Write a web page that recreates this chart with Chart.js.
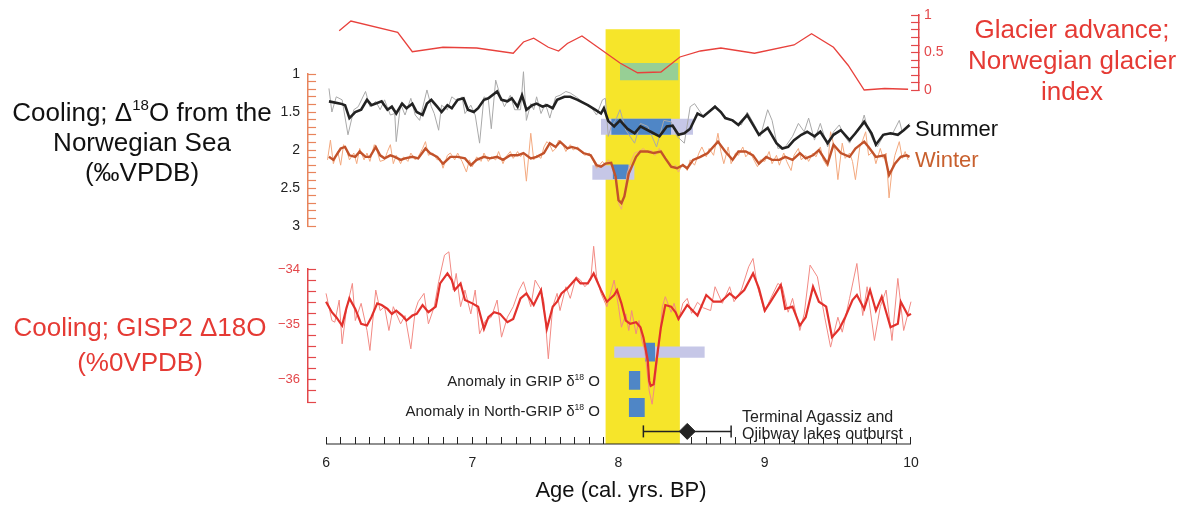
<!DOCTYPE html>
<html>
<head>
<meta charset="utf-8">
<title>8.2 ka event records</title>
<script src="https://cdn.jsdelivr.net/npm/chart.js@4.4.1/dist/chart.umd.min.js"></script>
<style>
  body { margin: 0; background: #fff; }
  #wrap { position: relative; width: 1182px; height: 506px; font-family: "Liberation Sans", Arial, sans-serif; }
  #chart { position: absolute; left: 0; top: 0; }
  .t { position: absolute; white-space: nowrap; }
  .c { transform: translateX(-50%); text-align: center; }
  sup { font-size: 58%; vertical-align: 0.7em; line-height: 0; }
</style>
</head>
<body>
<div id="wrap">
  <canvas id="chart" width="1182" height="506"></canvas>

  <div class="t c" style="left:142px;top:97px;font-size:26px;line-height:30px;color:#111">Cooling; Δ<sup>18</sup>O from the<br>Norwegian Sea<br>(‰VPDB)</div>
  <div class="t c" style="left:140px;top:310px;font-size:26px;line-height:35px;color:#e53a34">Cooling; GISP2 Δ18O<br>(%0VPDB)</div>
  <div class="t c" style="left:1072px;top:14px;font-size:26px;line-height:31px;color:#e53a34">Glacier advance;<br>Norwegian glacier<br>index</div>
  <div class="t" style="left:915px;top:118px;font-size:22px;line-height:22px;color:#111">Summer</div>
  <div class="t" style="left:915px;top:149px;font-size:22px;line-height:22px;color:#c8602e">Winter</div>
  <div class="t" style="right:582px;top:373px;font-size:15px;line-height:15px;color:#222">Anomaly in GRIP δ<sup>18</sup> O</div>
  <div class="t" style="right:582px;top:403px;font-size:15px;line-height:15px;color:#222">Anomaly in North-GRIP δ<sup>18</sup> O</div>
  <div class="t" style="left:742px;top:408px;font-size:16px;line-height:17px;color:#222">Terminal Agassiz and<br>Ojibway lakes outburst</div>
  <div class="t c" style="left:621px;top:479px;font-size:22px;line-height:22px;color:#111">Age (cal. yrs. BP)</div>
</div>

<script>
// ---------- glacier index ----------
const glacierAge = [6.09, 6.17, 6.49, 6.59, 6.80, 7.03, 7.28, 7.35, 7.42, 7.52, 7.59, 7.65, 7.75, 8.01, 8.13, 8.29, 8.42, 8.56, 8.70, 8.93, 9.20, 9.32, 9.47, 9.57, 9.68, 9.82, 9.98];
const glacierIdx = [0.79, 0.92, 0.77, 0.51, 0.57, 0.56, 0.49, 0.64, 0.69, 0.57, 0.52, 0.62, 0.72, 0.36, 0.23, 0.24, 0.44, 0.52, 0.56, 0.49, 0.60, 0.75, 0.57, 0.33, 0.00, 0.02, 0.01];

// ---------- Norwegian Sea, summer ----------
const summerAge = [6.02, 6.10, 6.13, 6.16, 6.20, 6.24, 6.28, 6.31, 6.38, 6.42, 6.45, 6.48, 6.52, 6.55, 6.59, 6.62, 6.66, 6.69, 6.72, 6.76, 6.79, 6.83, 6.86, 6.90, 6.94, 6.97, 7.01, 7.04, 7.08, 7.11, 7.17, 7.20, 7.24, 7.27, 7.31, 7.34, 7.37, 7.41, 7.44, 7.48, 7.51, 7.55, 7.58, 7.63, 7.67, 7.72, 7.79, 7.84, 7.88, 7.90, 7.93, 7.97, 8.01, 8.06, 8.11, 8.15, 8.22, 8.28, 8.33, 8.37, 8.41, 8.45, 8.49, 8.54, 8.58, 8.66, 8.70, 8.73, 8.78, 8.82, 8.88, 8.92, 8.96, 9.02, 9.08, 9.12, 9.16, 9.20, 9.25, 9.29, 9.34, 9.38, 9.43, 9.47, 9.52, 9.58, 9.62, 9.68, 9.73, 9.76, 9.81, 9.86, 9.91, 9.95, 9.99];
const summerSmooth = [1.36, 1.39, 1.41, 1.58, 1.50, 1.47, 1.34, 1.41, 1.36, 1.47, 1.43, 1.52, 1.39, 1.45, 1.39, 1.50, 1.54, 1.39, 1.34, 1.43, 1.50, 1.41, 1.45, 1.34, 1.32, 1.47, 1.50, 1.45, 1.34, 1.32, 1.23, 1.34, 1.36, 1.32, 1.43, 1.28, 1.47, 1.41, 1.39, 1.43, 1.41, 1.45, 1.34, 1.30, 1.30, 1.34, 1.41, 1.47, 1.52, 1.45, 1.62, 1.69, 1.61, 1.72, 1.78, 1.69, 1.76, 1.82, 1.69, 1.68, 1.80, 1.78, 1.72, 1.52, 1.56, 1.43, 1.50, 1.58, 1.61, 1.67, 1.54, 1.67, 1.80, 1.71, 1.91, 1.98, 1.96, 1.87, 1.80, 1.76, 1.82, 1.76, 1.91, 1.80, 1.74, 1.87, 1.78, 1.63, 1.78, 1.93, 1.80, 1.78, 1.80, 1.74, 1.67];
const summerRawAge = [6.02, 6.04, 6.07, 6.11, 6.15, 6.19, 6.22, 6.27, 6.30, 6.34, 6.37, 6.40, 6.44, 6.47, 6.48, 6.51, 6.54, 6.58, 6.61, 6.64, 6.69, 6.72, 6.74, 6.77, 6.79, 6.83, 6.86, 6.90, 6.93, 6.95, 6.99, 7.02, 7.05, 7.08, 7.11, 7.13, 7.16, 7.19, 7.22, 7.26, 7.29, 7.33, 7.35, 7.37, 7.40, 7.42, 7.44, 7.47, 7.50, 7.53, 7.57, 7.60, 7.64, 7.67, 7.71, 7.75, 7.81, 7.85, 7.89, 7.91, 7.93, 7.95, 7.98, 8.01, 8.05, 8.11, 8.15, 8.20, 8.26, 8.31, 8.36, 8.40, 8.45, 8.49, 8.52, 8.58, 8.66, 8.70, 8.74, 8.79, 8.84, 8.88, 8.93, 8.97, 9.02, 9.05, 9.09, 9.14, 9.19, 9.23, 9.27, 9.30, 9.34, 9.38, 9.43, 9.47, 9.51, 9.54, 9.58, 9.62, 9.66, 9.68, 9.70, 9.74, 9.77, 9.82, 9.87, 9.92, 9.94, 9.99];
const summerRaw = [1.19, 1.50, 1.30, 1.34, 1.80, 1.47, 1.43, 1.23, 1.43, 1.36, 1.47, 1.34, 1.54, 1.52, 1.89, 1.39, 1.54, 1.32, 1.54, 1.61, 1.21, 1.43, 1.52, 1.74, 1.41, 1.47, 1.30, 1.36, 1.30, 1.52, 1.41, 1.54, 1.91, 1.30, 1.34, 1.72, 1.08, 1.28, 1.43, 1.28, 1.47, 1.47, 0.97, 1.61, 1.39, 1.47, 1.30, 1.52, 1.39, 1.58, 1.30, 1.28, 1.23, 1.25, 1.30, 1.36, 1.43, 1.54, 1.34, 1.32, 1.82, 1.69, 1.61, 1.47, 1.74, 1.91, 1.65, 1.69, 1.96, 1.61, 1.63, 1.82, 1.91, 1.43, 1.39, 1.56, 1.41, 1.52, 1.58, 1.63, 1.67, 1.50, 1.67, 1.82, 1.47, 1.61, 1.98, 1.96, 1.82, 1.65, 1.76, 1.58, 1.87, 1.65, 1.96, 1.76, 1.67, 1.80, 1.91, 1.76, 1.67, 1.54, 1.69, 1.87, 1.96, 1.78, 1.80, 1.61, 1.76, 1.65];

// ---------- Norwegian Sea, winter ----------
const winterAge = [6.02, 6.05, 6.10, 6.13, 6.16, 6.20, 6.23, 6.27, 6.30, 6.34, 6.37, 6.40, 6.44, 6.47, 6.51, 6.54, 6.59, 6.63, 6.68, 6.71, 6.76, 6.80, 6.85, 6.90, 6.95, 6.99, 7.03, 7.08, 7.12, 7.17, 7.21, 7.26, 7.31, 7.35, 7.40, 7.44, 7.49, 7.53, 7.57, 7.60, 7.65, 7.68, 7.72, 7.76, 7.81, 7.85, 7.88, 7.91, 7.95, 7.98, 8.00, 8.02, 8.04, 8.07, 8.12, 8.15, 8.20, 8.24, 8.29, 8.32, 8.36, 8.40, 8.44, 8.47, 8.51, 8.56, 8.61, 8.68, 8.73, 8.78, 8.82, 8.87, 8.92, 8.96, 9.01, 9.05, 9.10, 9.14, 9.19, 9.24, 9.28, 9.33, 9.37, 9.43, 9.47, 9.52, 9.58, 9.62, 9.68, 9.71, 9.76, 9.82, 9.85, 9.89, 9.93, 9.97, 9.99];
const winterSmooth = [2.09, 2.13, 1.98, 1.96, 2.07, 2.09, 2.02, 2.09, 2.09, 1.96, 2.07, 2.11, 2.07, 2.09, 2.13, 2.11, 2.09, 2.11, 1.98, 2.04, 2.09, 2.18, 2.09, 2.09, 2.11, 2.20, 2.13, 2.09, 2.11, 2.09, 2.13, 2.07, 2.07, 2.04, 2.11, 2.09, 2.04, 1.91, 1.96, 1.89, 1.98, 1.96, 1.98, 2.04, 2.07, 2.20, 2.22, 2.18, 2.17, 2.35, 2.66, 2.70, 2.61, 2.31, 2.09, 2.02, 2.02, 2.04, 2.02, 2.11, 2.22, 2.24, 2.20, 2.24, 2.13, 2.09, 2.04, 1.89, 2.02, 2.13, 2.02, 2.02, 2.07, 2.18, 2.09, 2.13, 2.13, 2.09, 2.13, 2.04, 2.11, 2.07, 2.00, 2.18, 1.93, 2.04, 2.09, 1.98, 1.89, 1.96, 2.09, 2.07, 2.33, 2.18, 2.09, 2.07, 2.09];
const winterRawAge = [6.01, 6.03, 6.05, 6.08, 6.10, 6.12, 6.14, 6.16, 6.19, 6.21, 6.23, 6.26, 6.28, 6.30, 6.33, 6.35, 6.37, 6.40, 6.42, 6.44, 6.46, 6.48, 6.51, 6.53, 6.56, 6.58, 6.61, 6.63, 6.66, 6.68, 6.70, 6.73, 6.76, 6.78, 6.80, 6.83, 6.85, 6.88, 6.90, 6.93, 6.96, 6.98, 7.00, 7.03, 7.06, 7.08, 7.11, 7.13, 7.16, 7.18, 7.21, 7.23, 7.26, 7.28, 7.31, 7.33, 7.35, 7.37, 7.40, 7.42, 7.44, 7.47, 7.49, 7.51, 7.53, 7.55, 7.57, 7.59, 7.62, 7.64, 7.67, 7.69, 7.72, 7.74, 7.77, 7.80, 7.82, 7.85, 7.87, 7.89, 7.91, 7.93, 7.96, 7.98, 8.00, 8.02, 8.04, 8.06, 8.09, 8.11, 8.14, 8.17, 8.20, 8.22, 8.25, 8.28, 8.31, 8.33, 8.36, 8.39, 8.41, 8.44, 8.47, 8.49, 8.52, 8.55, 8.57, 8.60, 8.62, 8.65, 8.68, 8.70, 8.72, 8.75, 8.77, 8.80, 8.82, 8.85, 8.87, 8.90, 8.92, 8.95, 8.97, 9.00, 9.03, 9.05, 9.08, 9.10, 9.13, 9.15, 9.18, 9.20, 9.23, 9.25, 9.28, 9.30, 9.33, 9.35, 9.38, 9.40, 9.43, 9.45, 9.48, 9.50, 9.53, 9.55, 9.58, 9.60, 9.62, 9.65, 9.67, 9.69, 9.71, 9.74, 9.76, 9.79, 9.81, 9.83, 9.85, 9.87, 9.89, 9.92, 9.94, 9.96, 9.98];
const winterRaw = [2.13, 1.87, 2.18, 2.02, 2.20, 1.93, 2.00, 2.13, 2.04, 2.18, 1.98, 2.13, 2.04, 2.15, 1.93, 2.02, 2.15, 2.13, 2.02, 1.93, 2.18, 2.07, 2.18, 2.09, 2.15, 2.04, 2.13, 2.09, 1.98, 1.89, 2.07, 2.04, 2.13, 2.11, 2.24, 2.07, 2.04, 2.13, 2.04, 2.15, 2.29, 2.13, 2.22, 2.09, 2.15, 2.04, 2.15, 2.09, 2.13, 2.02, 2.18, 2.09, 2.02, 2.11, 2.02, 2.09, 2.04, 2.41, 1.78, 2.13, 2.07, 2.11, 1.96, 1.89, 1.93, 2.02, 1.98, 1.87, 1.93, 2.02, 1.93, 2.00, 1.96, 2.02, 2.07, 2.04, 2.11, 2.24, 2.20, 2.15, 2.20, 2.13, 2.22, 2.40, 2.70, 2.78, 2.58, 2.30, 2.13, 2.04, 2.02, 1.98, 2.04, 2.00, 2.07, 1.98, 2.09, 2.15, 2.24, 2.20, 2.29, 2.18, 2.27, 2.13, 2.20, 2.04, 1.96, 2.09, 1.98, 2.07, 1.78, 2.02, 2.18, 1.96, 2.18, 2.04, 2.07, 1.96, 2.09, 2.02, 2.11, 2.22, 2.13, 2.15, 2.02, 2.18, 2.07, 2.20, 2.04, 2.15, 2.27, 2.07, 1.98, 2.13, 2.07, 2.15, 2.04, 2.09, 1.96, 2.13, 2.22, 1.76, 2.00, 2.39, 1.91, 2.11, 2.04, 2.15, 2.39, 1.96, 1.87, 1.76, 2.07, 2.02, 2.18, 1.98, 2.11, 2.04, 2.63, 2.27, 2.07, 1.89, 2.11, 2.02, 2.13];

// ---------- GISP2 ----------
const gispAge = [6.00, 6.04, 6.07, 6.11, 6.14, 6.16, 6.20, 6.24, 6.28, 6.31, 6.35, 6.38, 6.42, 6.45, 6.48, 6.52, 6.55, 6.59, 6.62, 6.66, 6.70, 6.75, 6.78, 6.83, 6.86, 6.88, 6.92, 6.95, 7.00, 7.04, 7.08, 7.11, 7.15, 7.19, 7.24, 7.28, 7.33, 7.37, 7.42, 7.47, 7.51, 7.55, 7.58, 7.61, 7.65, 7.71, 7.74, 7.79, 7.83, 7.88, 7.92, 7.97, 7.99, 8.02, 8.05, 8.08, 8.12, 8.15, 8.17, 8.20, 8.21, 8.22, 8.24, 8.26, 8.29, 8.32, 8.36, 8.39, 8.41, 8.47, 8.54, 8.60, 8.65, 8.70, 8.76, 8.80, 8.86, 8.92, 8.96, 9.00, 9.04, 9.11, 9.14, 9.19, 9.24, 9.28, 9.33, 9.37, 9.42, 9.46, 9.51, 9.55, 9.60, 9.63, 9.68, 9.72, 9.76, 9.80, 9.86, 9.91, 9.93, 9.98, 10.00];
const gispSmooth = [-34.59, -34.78, -34.87, -35.02, -34.70, -34.53, -34.72, -34.99, -35.02, -34.87, -34.62, -34.65, -34.72, -34.81, -34.75, -34.84, -34.93, -34.84, -34.81, -34.65, -34.78, -34.68, -34.26, -34.08, -34.20, -34.38, -34.26, -34.56, -34.62, -34.68, -35.08, -34.87, -34.78, -34.81, -34.96, -34.90, -34.53, -34.44, -34.65, -34.38, -35.08, -34.68, -34.59, -34.44, -34.35, -34.17, -34.26, -34.26, -34.08, -34.38, -34.59, -34.47, -34.38, -34.62, -34.93, -34.99, -34.96, -35.05, -35.23, -35.65, -36.02, -36.11, -36.08, -35.65, -35.05, -34.65, -34.68, -34.78, -34.90, -34.65, -34.84, -34.47, -34.59, -34.59, -34.44, -34.53, -34.38, -34.08, -34.35, -34.75, -34.59, -34.29, -34.72, -34.68, -35.02, -34.87, -34.32, -34.59, -34.68, -35.23, -35.08, -34.87, -34.56, -34.47, -34.72, -34.38, -34.75, -34.50, -35.05, -34.99, -34.59, -34.84, -34.81];
const gispRawAge = [6.00, 6.04, 6.06, 6.09, 6.11, 6.14, 6.18, 6.20, 6.24, 6.28, 6.30, 6.34, 6.37, 6.40, 6.43, 6.46, 6.51, 6.54, 6.58, 6.61, 6.63, 6.67, 6.70, 6.74, 6.77, 6.81, 6.84, 6.87, 6.89, 6.92, 6.95, 6.99, 7.02, 7.05, 7.09, 7.13, 7.17, 7.20, 7.24, 7.28, 7.32, 7.35, 7.40, 7.43, 7.47, 7.49, 7.52, 7.55, 7.58, 7.60, 7.64, 7.67, 7.71, 7.74, 7.77, 7.81, 7.83, 7.85, 7.88, 7.92, 7.97, 8.00, 8.02, 8.05, 8.07, 8.09, 8.12, 8.14, 8.16, 8.18, 8.21, 8.23, 8.25, 8.28, 8.30, 8.32, 8.36, 8.38, 8.41, 8.44, 8.47, 8.50, 8.54, 8.58, 8.63, 8.66, 8.71, 8.76, 8.79, 8.84, 8.89, 8.92, 8.95, 9.00, 9.03, 9.09, 9.12, 9.16, 9.19, 9.24, 9.27, 9.31, 9.36, 9.41, 9.45, 9.50, 9.53, 9.58, 9.63, 9.67, 9.70, 9.75, 9.79, 9.83, 9.87, 9.91, 9.95, 10.00];
const gispRaw = [-34.44, -34.93, -34.96, -34.56, -35.35, -34.72, -34.26, -34.93, -34.62, -35.11, -35.47, -34.38, -34.75, -34.68, -35.11, -34.68, -34.99, -34.84, -35.44, -34.75, -34.59, -34.44, -34.99, -34.68, -34.23, -33.75, -33.69, -34.38, -34.08, -34.68, -34.38, -34.81, -34.38, -35.17, -34.93, -34.87, -34.56, -35.23, -34.87, -34.68, -34.38, -34.23, -34.68, -34.20, -34.38, -34.59, -35.62, -34.68, -34.44, -34.75, -34.32, -34.53, -34.14, -34.20, -34.32, -34.20, -33.59, -34.14, -34.44, -34.68, -34.20, -34.68, -35.05, -34.81, -35.11, -34.75, -35.17, -34.93, -35.29, -35.47, -36.20, -36.44, -36.02, -35.29, -34.68, -34.50, -34.78, -34.62, -34.93, -34.62, -34.53, -34.80, -34.60, -34.70, -34.75, -34.32, -34.62, -34.32, -34.59, -34.38, -33.96, -33.81, -34.32, -34.78, -34.59, -34.26, -34.32, -34.78, -34.53, -35.11, -34.81, -33.93, -34.14, -34.87, -35.41, -34.87, -35.14, -34.53, -33.90, -34.84, -34.32, -35.29, -34.68, -34.38, -35.29, -34.17, -35.11, -34.59];

// ---------- event window and anomaly boxes [age from, age to], [value from, value to] ----------
const eventBand = [7.91, 8.42];
const glacierBox = { age: [8.01, 8.41], val: [0.13, 0.36] };
const summerRange = { age: [7.88, 8.51], val: [1.59, 1.80] };
const summerCore = { age: [7.95, 8.36], val: [1.59, 1.80] };
const winterRange = { age: [7.82, 8.11], val: [2.20, 2.39] };
const winterCore = { age: [7.96, 8.07], val: [2.19, 2.38] };
const gispRange = { age: [7.97, 8.59], val: [-35.40, -35.60] };
const gispCore = { age: [8.18, 8.25], val: [-35.33, -35.67] };
const gripBox = { age: [8.07, 8.15], val: [-35.84, -36.18] };
const ngripBox = { age: [8.07, 8.18], val: [-36.33, -36.67] };
const outburstAge = 8.47;
const outburstRange = [8.17, 8.77];

// =========================
// HELPERS
// =========================
const pts = (xs, ys) => xs.map((x, i) => ({ x, y: ys[i] }));

// series may run a little past their own axis (spikes), so no clipping to the axis slot
const line = (xs, ys, axis, color, width, order) => ({
    data: pts(xs, ys),
    yAxisID: axis,
    borderColor: color,
    borderWidth: width,
    pointRadius: 0,
    tension: 0,
    fill: false,
    clip: false,
    order
});

const box = (b, axis, color, order) => ({
    data: [{ x: b.age[0], y: b.val[1] }, { x: b.age[1], y: b.val[1] }],
    yAxisID: axis,
    borderColor: "transparent",
    borderWidth: 0,
    pointRadius: 0,
    backgroundColor: color,
    fill: { value: b.val[0] },
    clip: false,
    order
});

const isStep = (v, step) => Math.abs(v / step - Math.round(v / step)) < 1e-6;

const BLUE = "#4f86c6";
const LAVENDER = "#c6c7e7";
const RED = "#e3474a";
const ORANGE_TICK = "#e8845c";

Chart.defaults.font.family = '"Liberation Sans", Arial, sans-serif';

// spacer axis (keeps a slot in a stacked column)
const spacer = (pos, stack, weight, w) => ({
    type: "linear", display: false, position: pos, stack, stackWeight: weight, weight: w
});

const yAxis = (pos, w, stackWeight, min, max, step, major, fmt, tickColor, labelColor, size) => ({
    type: "linear",
    position: pos,
    stack: pos === "left" ? "L" : "R",
    stackWeight,
    weight: w,
    min, max,
    border: { display: true, color: tickColor, width: 1.5 },
    grid: { drawOnChartArea: false, drawTicks: true, tickLength: -8, tickColor, tickWidth: 1.2 },
    // labels sit inside the stacked column, so they need no extra room above / below the plot
    afterFit: sc => { sc.paddingTop = 0; sc.paddingBottom = 0; },
    ticks: {
        stepSize: step,
        autoSkip: false,
        padding: pos === "left" ? 16 : 13,
        color: labelColor,
        font: { size },
        callback: v => isStep(v, major) ? fmt(v) : ""
    }
});

const scales = {
    x: {
        type: "linear",
        min: 5.877,
        max: 10.055,
        z: 1,
        border: { display: false },
        grid: { drawOnChartArea: false, drawTicks: true, tickLength: -7, color: "#222", tickWidth: 1 },
        afterBuildTicks: s => { s.ticks = s.ticks.filter(t => t.value > 5.999 && t.value < 10.001); },
        ticks: {
            stepSize: 0.1,
            includeBounds: false,
            autoSkip: false,
            maxRotation: 0,
            padding: 18,
            color: "#222",
            font: { size: 14 },
            callback: v => isStep(v, 1) ? String(Math.round(v)) : ""
        }
    },
    sTop: spacer("left", "L", 59, 5),
    yN: Object.assign(yAxis("left", 4, 152, 1, 3, 0.1, 0.5, v => String(Number(v.toFixed(1))), ORANGE_TICK, "#222", 14), { reverse: true }),
    sMid: spacer("left", "L", 43, 3),
    yS: yAxis("left", 2, 133, -36.4, -34, 0.2, 1, v => "\u2212" + Math.abs(Math.round(v)), RED, RED, 13),
    sBot: Object.assign(spacer("left", "L", 42, 1), { min: 0, max: 1 }),
    yG: yAxis("right", 1, 75, 0, 1, 0.1, 0.5, v => String(Number(v.toFixed(1))), RED, RED, 14),
    sR: spacer("right", "R", 354, 2),
    yFull: { type: "linear", display: false, position: "right", weight: 3, min: 0, max: 1 }
};

const datasets = [
    // event window behind everything
    { data: [{ x: eventBand[0], y: 0.967 }, { x: eventBand[1], y: 0.967 }], yAxisID: "yFull",
      borderColor: "transparent", borderWidth: 0, pointRadius: 0, backgroundColor: "#f6e52a", fill: { value: 0 }, order: 20 },

    box(glacierBox, "yG", "#97cf95", 10),
    box(summerRange, "yN", LAVENDER, 11),
    box(summerCore, "yN", BLUE, 10),
    box(winterRange, "yN", LAVENDER, 11),
    box(winterCore, "yN", BLUE, 10),
    box(gispRange, "yS", LAVENDER, 11),
    box(gispCore, "yS", BLUE, 10),
    box(gripBox, "yS", BLUE, 10),
    box(ngripBox, "yS", BLUE, 10),

    line(summerRawAge, summerRaw, "yN", "#a9a9a9", 1, 6),
    line(winterRawAge, winterRaw, "yN", "#f3a97f", 1, 6),
    line(gispRawAge, gispRaw, "yS", "#f28a84", 1, 6),
    line(summerAge, summerSmooth, "yN", "#222222", 2.6, 4),
    line(winterAge, winterSmooth, "yN", "#c2522a", 2.4, 4),
    line(gispAge, gispSmooth, "yS", "#e2312c", 2.2, 4),
    line(glacierAge, glacierIdx, "yG", "#e8413c", 1.3, 4),

    // x axis line from 6 to 10
    { data: [{ x: 6, y: 0 }, { x: 10, y: 0 }], yAxisID: "yFull", borderColor: "#222", borderWidth: 1.2,
      pointRadius: 0, clip: false, order: 1 },

    // outburst age with error bar
    { data: [{ x: outburstRange[0], y: 0.3 }, { x: outburstRange[1], y: 0.3 }], yAxisID: "sBot",
      borderColor: "#222", borderWidth: 1.5, pointStyle: "line", pointRotation: 90, pointRadius: 6,
      pointBorderWidth: 1.5, pointBorderColor: "#222", clip: false, order: 2 },
    { data: [{ x: outburstAge, y: 0.3 }], yAxisID: "sBot", showLine: false, pointStyle: "rectRot",
      pointRadius: 8, backgroundColor: "#222", borderColor: "#222", clip: false, order: 1 }
];

new Chart(document.getElementById("chart"), {
    type: "line",
    data: { datasets },
    options: {
        responsive: false,
        animation: false,
        devicePixelRatio: 1,
        layout: { padding: { left: 262, right: 225.5, top: 15, bottom: 16.2 } },
        plugins: { legend: { display: false }, tooltip: { enabled: false } },
        scales
    }
});
</script>
</body>
</html>
